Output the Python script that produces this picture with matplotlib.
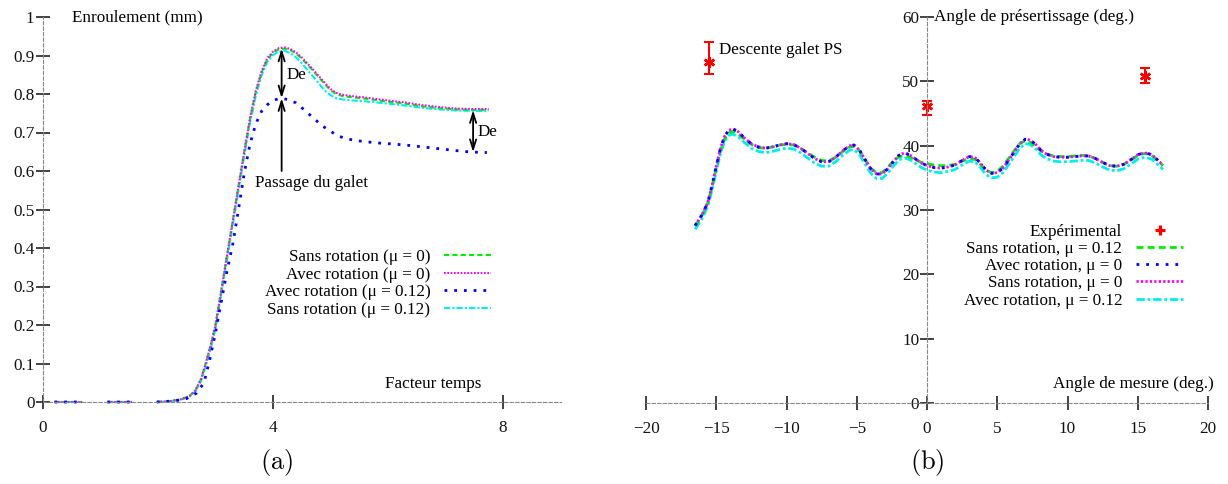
import matplotlib
matplotlib.use("Agg")
import matplotlib.pyplot as plt
import numpy as np
from matplotlib.lines import Line2D
from matplotlib.ticker import FuncFormatter

plt.rcParams['font.family'] = ['Liberation Serif', 'DejaVu Serif']
plt.rcParams['mathtext.fontset'] = 'cm'
plt.rcParams['axes.unicode_minus'] = True

# ---------------- data: panel (a) ----------------
xa_green = [0.2, 0.68, np.nan, 1.12, 1.55, np.nan, 1.98, 2.2, 2.4, 2.55, 2.65, 2.75, 2.83, 2.92, 3.0, 3.1, 3.2, 3.3,
            3.4, 3.5, 3.6, 3.7, 3.8, 3.9, 4.0, 4.1, 4.2, 4.3, 4.4, 4.5, 4.6, 4.7, 4.8, 4.9, 5.0,
            5.1, 5.2, 5.4, 5.6, 5.8, 6.0, 6.3, 6.6, 6.9, 7.2, 7.5, 7.75]
ya_green = [0, 0, np.nan, 0, 0, np.nan, 0, 0.002, 0.007, 0.016, 0.03, 0.06, 0.1, 0.15, 0.2, 0.29, 0.38, 0.47,
            0.56, 0.65, 0.735, 0.805, 0.855, 0.89, 0.907, 0.916, 0.918, 0.914, 0.905, 0.892, 0.876, 0.86, 0.843, 0.826, 0.81,
            0.80, 0.795, 0.791, 0.788, 0.784, 0.78, 0.775, 0.768, 0.763, 0.76, 0.759, 0.759]
ya_magenta = [0, 0, np.nan, 0, 0, np.nan, 0, 0.002, 0.007, 0.016, 0.03, 0.06, 0.1, 0.15, 0.2, 0.29, 0.38, 0.47,
              0.56, 0.65, 0.737, 0.808, 0.858, 0.893, 0.91, 0.919, 0.921, 0.917, 0.908, 0.895, 0.879, 0.863, 0.846, 0.829, 0.813,
              0.803, 0.798, 0.794, 0.791, 0.787, 0.783, 0.778, 0.771, 0.766, 0.762, 0.761, 0.761]
ya_cyan = [0, 0, np.nan, 0, 0, np.nan, 0, 0.002, 0.006, 0.014, 0.027, 0.055, 0.093, 0.14, 0.19, 0.28, 0.37, 0.46,
           0.55, 0.64, 0.725, 0.795, 0.848, 0.883, 0.901, 0.91, 0.912, 0.906, 0.895, 0.88, 0.862, 0.845, 0.827, 0.809, 0.797,
           0.789, 0.786, 0.783, 0.781, 0.778, 0.775, 0.77, 0.764, 0.76, 0.757, 0.756, 0.756]

xa_blue = [0.2, 0.68, np.nan, 1.12, 1.55, np.nan, 1.98, 2.3, 2.5, 2.67, 2.8, 2.9, 3.0, 3.1, 3.2, 3.3, 3.4, 3.5, 3.6, 3.7,
           3.8, 3.9, 4.0, 4.12, 4.25, 4.4, 4.55, 4.7, 4.85, 5.0, 5.15, 5.3, 5.5, 5.8, 6.1, 6.4,
           6.7, 7.0, 7.3, 7.5, 7.72]
ya_blue = [0, 0, np.nan, 0, 0, np.nan, 0, 0.003, 0.009, 0.023, 0.05, 0.11, 0.18, 0.26, 0.34, 0.41, 0.50, 0.595, 0.67, 0.722,
           0.755, 0.772, 0.783, 0.789, 0.786, 0.777, 0.758, 0.738, 0.718, 0.703, 0.69, 0.683, 0.678, 0.673, 0.67, 0.666,
           0.661, 0.656, 0.651, 0.649, 0.648]

labels_a = ["Sans rotation (\u03bc = 0)", "Avec rotation (\u03bc = 0)",
            "Avec rotation (\u03bc = 0.12)", "Sans rotation (\u03bc = 0.12)"]

# ---------------- data: panel (b) ----------------
xb = [-16.5, -16.0, -15.6, -15.3, -15.0, -14.7, -14.4, -14.1, -13.8, -13.4, -13.0, -12.5, -12.0, -11.5,
      -11.0, -10.5, -10.0, -9.5, -9.0, -8.5, -8.0, -7.5, -7.0, -6.5, -6.0, -5.5, -5.2, -4.8, -4.4,
      -4.0, -3.6, -3.2, -2.8, -2.4, -2.0, -1.6, -1.2, -0.8, -0.4, 0.0, 0.5, 1.0, 1.5, 2.0, 2.5, 3.0,
      3.4, 3.8, 4.2, 4.6, 5.0, 5.4, 5.8, 6.2, 6.6, 7.0, 7.3, 7.7, 8.1, 8.5, 9.0, 9.5, 10.0, 10.5,
      11.0, 11.5, 12.0, 12.5, 13.0, 13.5, 14.0, 14.5, 15.0, 15.5, 16.0, 16.4, 16.8]
yb_magenta = [27.6, 29.3, 31.2, 33.8, 36.8, 39.6, 41.5, 42.4, 42.6, 42.1, 41.2, 40.3, 39.8, 39.6,
              39.8, 40.1, 40.3, 40.2, 39.6, 38.8, 38.0, 37.5, 37.5, 38.2, 39.2, 40.0, 40.1, 39.3, 37.8,
              36.4, 35.6, 35.6, 36.4, 37.5, 38.5, 38.9, 38.5, 37.9, 37.3, 36.9, 36.6, 36.5, 36.7, 37.0, 37.7, 38.3,
              38.2, 37.3, 36.2, 35.7, 35.8, 36.5, 37.7, 39.0, 40.3, 41.0, 40.9, 40.3, 39.3, 38.7, 38.3, 38.2, 38.2, 38.3,
              38.4, 38.4, 38.0, 37.4, 36.9, 36.8, 37.1, 37.8, 38.6, 38.9, 38.6, 37.8, 37.0]
yb_blue = [27.6, 29.3, 31.2, 33.8, 36.8, 39.6, 41.5, 42.4, 42.6, 42.1, 41.2, 40.3, 39.8, 39.6,
           39.8, 40.1, 40.3, 40.2, 39.6, 38.8, 38.0, 37.5, 37.5, 38.2, 39.2, 40.0, 40.1, 39.3, 37.8,
           36.4, 35.6, 35.6, 36.4, 37.5, 38.5, 38.9, 38.5, 37.9, 37.3, 36.9, 36.6, 36.5, 36.7, 37.0, 37.7, 38.3,
           38.2, 37.3, 36.2, 35.7, 35.8, 36.5, 37.7, 39.0, 40.3, 41.0, 40.9, 40.3, 39.3, 38.7, 38.3, 38.2, 38.2, 38.3,
           38.4, 38.4, 38.0, 37.4, 36.9, 36.8, 37.1, 37.8, 38.6, 38.9, 38.6, 37.8, 37.0]
yb_green = [27.5, 29.2, 31.1, 33.6, 36.5, 39.2, 41.1, 42.0, 42.2, 41.8, 41.0, 40.2, 39.7, 39.6,
            39.8, 40.1, 40.2, 40.1, 39.6, 38.9, 38.2, 37.7, 37.6, 38.2, 39.1, 39.8, 39.9, 39.2, 37.8,
            36.5, 35.8, 35.8, 36.6, 37.6, 38.3, 38.4, 38.2, 37.8, 37.4, 37.2, 37.0, 36.9, 36.9, 37.1, 37.6, 38.0,
            37.9, 37.1, 36.2, 35.8, 36.0, 36.8, 38.0, 39.2, 40.3, 40.8, 40.6, 40.0, 39.2, 38.7, 38.4, 38.3, 38.3, 38.4,
            38.5, 38.4, 38.0, 37.4, 36.9, 36.8, 37.1, 37.7, 38.5, 38.8, 38.5, 37.7, 36.9]
yb_cyan = [27.0, 28.7, 30.6, 33.1, 36.0, 38.8, 40.7, 41.6, 41.8, 41.3, 40.5, 39.6, 39.1, 38.9,
           39.1, 39.4, 39.6, 39.5, 38.9, 38.1, 37.3, 36.8, 36.8, 37.5, 38.5, 39.3, 39.4, 38.6, 37.1,
           35.7, 34.9, 34.9, 35.7, 36.8, 37.8, 38.1, 37.8, 37.2, 36.6, 36.2, 35.9, 35.8, 36.0, 36.3, 37.0, 37.6,
           37.5, 36.6, 35.5, 35.0, 35.1, 35.8, 37.0, 38.3, 39.6, 40.3, 40.2, 39.6, 38.6, 38.0, 37.6, 37.5, 37.5, 37.6,
           37.7, 37.7, 37.3, 36.7, 36.2, 36.1, 36.4, 37.1, 37.9, 38.2, 37.9, 37.1, 36.3]

exp_x = [-15.5, 0.0, 15.5]
exp_y = [53.0, 46.1, 50.9]
exp_err_low = [1.9, 1.3, 1.1]
exp_err_high = [3.1, 0.9, 1.1]

labels_b = ["Exp\u00e9rimental", "Sans rotation, \u03bc = 0.12", "Avec rotation, \u03bc = 0",
            "Sans rotation, \u03bc = 0", "Avec rotation, \u03bc = 0.12"]

# ---------------- styles ----------------
GREEN, MAGENTA, BLUE, CYAN, RED = '#00ee00', '#ff00ff', '#0000ff', '#00eeee', '#ff0000'
ls_green = (0, (2.5, 1.5))
ls_magenta = (0, (0.8, 0.8))
ls_blue = (0, (1.0, 2.5))
ls_cyan = (0, (3.0, 1.0, 1.0, 1.0))
LW = 1.5
FS = 12.3

fig = plt.figure(figsize=(12.28, 4.84), dpi=100)
W, H = 1228.0, 484.0
axa = fig.add_axes([43 / W, (H - 402) / H, 517.5 / W, 385 / H])
axb = fig.add_axes([646 / W, (H - 403) / H, 562 / W, 386 / H])


def style_axes(ax):
    ax.patch.set_visible(False)
    for s in ['top', 'right']:
        ax.spines[s].set_visible(False)
    for s in ['left', 'bottom']:
        ax.spines[s].set_position(('data', 0))
        ax.spines[s].set_color('#888888')
        ax.spines[s].set_linewidth(0.8)
        ax.spines[s].set_linestyle((0, (3, 2)))
    ax.tick_params(axis='both', direction='inout', length=10, width=1.2,
                   color='#222222', labelsize=FS, labelcolor='#111111')
    ax.tick_params(axis='x', pad=8)
    ax.tick_params(axis='y', pad=1)


# ---------------- panel (a) ----------------
style_axes(axa)
axa.set_xlim(0, 9)
axa.set_ylim(0, 1)
axa.set_xticks([0, 4, 8])
axa.set_yticks(np.round(np.arange(0, 1.01, 0.1), 1))
axa.yaxis.set_major_formatter(FuncFormatter(lambda v, p: '%g' % v))

h1, = axa.plot(xa_green, ya_cyan, color=CYAN, lw=LW, ls=ls_cyan, clip_on=False)
h2, = axa.plot(xa_green, ya_green, color=GREEN, lw=LW, ls=ls_green, clip_on=False)
h3, = axa.plot(xa_green, ya_magenta, color=MAGENTA, lw=LW, ls=ls_magenta, clip_on=False)
h4, = axa.plot(xa_blue, ya_blue, color=BLUE, lw=LW + 0.5, ls=ls_blue, clip_on=False)

leg = axa.legend([h2, h3, h4, h1], labels_a, loc='upper right',
                 bbox_to_anchor=((491 - 43) / 517.5, (402 - 249.0) / 385),
                 frameon=False, markerfirst=False, handlelength=2.75, handletextpad=0.8,
                 labelspacing=0.09, borderpad=0, borderaxespad=0, fontsize=FS)

axa.text(0.5, 1.0, "Enroulement (mm)", fontsize=FS, ha='left', va='center')
axa.text(7.63, 0.047, "Facteur temps", fontsize=FS, ha='right', va='center')

arrow_kw = dict(arrowstyle='<->,head_length=0.7,head_width=0.22', color='black', lw=1.3,
                shrinkA=0, shrinkB=0)
axa.annotate('', xy=(4.15, 0.918), xytext=(4.15, 0.789), arrowprops=arrow_kw)
axa.text(4.24, 0.85, "De", fontsize=FS, ha='left', va='center')
axa.annotate('', xy=(4.15, 0.789), xytext=(4.15, 0.60),
             arrowprops=dict(arrowstyle='->,head_length=0.7,head_width=0.22', color='black',
                             lw=1.3, shrinkA=0, shrinkB=0))
axa.text(3.69, 0.568, "Passage du galet", fontsize=FS, ha='left', va='center')
axa.annotate('', xy=(7.48, 0.758), xytext=(7.48, 0.649), arrowprops=arrow_kw)
axa.text(7.55, 0.70, "De", fontsize=FS, ha='left', va='center')

# ---------------- panel (b) ----------------
style_axes(axb)
axb.set_xlim(-20, 20)
axb.set_ylim(0, 60)
axb.set_xticks(np.arange(-20, 21, 5))
axb.set_yticks(np.arange(0, 61, 10))
axb.tick_params(axis='y', pad=0.5)

g1, = axb.plot(xb, yb_cyan, color=CYAN, lw=LW + 0.5, ls=ls_cyan, clip_on=False)
g2, = axb.plot(xb, yb_green, color=GREEN, lw=LW + 0.5, ls=ls_green, clip_on=False)
g3, = axb.plot(xb, yb_magenta, color=MAGENTA, lw=LW + 0.5, ls=ls_magenta, clip_on=False)
g4, = axb.plot(xb, yb_blue, color=BLUE, lw=LW + 0.5, ls=ls_blue, clip_on=False)
axb.errorbar(exp_x, exp_y, yerr=[exp_err_low, exp_err_high], fmt='none', ecolor=RED,
             elinewidth=1.5, capsize=3.5, capthick=1.5, clip_on=False)
axb.plot(exp_x, exp_y, ls='none', marker=(6, 2, 0), ms=8, mew=1.8, color=RED, clip_on=False)

exp_handle = Line2D([], [], ls='none', marker='+', ms=7, mew=2.3, color=RED)
axb.legend([exp_handle, g2, g4, g3, g1], labels_b, loc='upper right',
           bbox_to_anchor=((1183 - 646) / 562, (403 - 223.5) / 386),
           frameon=False, markerfirst=False, handlelength=2.75, handletextpad=0.8,
           labelspacing=0.075, borderpad=0, borderaxespad=0, fontsize=FS)

axb.text(0.5, 60, "Angle de pr\u00e9sertissage (deg.)", fontsize=FS, ha='left', va='center')
axb.text(20.4, 2.9, "Angle de mesure (deg.)", fontsize=FS, ha='right', va='center')
axb.text(-14.8, 54.8, "Descente galet PS", fontsize=FS, ha='left', va='center')

# panel labels
fig.text(277 / W, (H - 463) / H, r'$\mathrm{(a)}$', fontsize=19, ha='center', va='center')
fig.text(927 / W, (H - 463) / H, r'$\mathrm{(b)}$', fontsize=19, ha='center', va='center')

fig.savefig('out.png', dpi=100)
